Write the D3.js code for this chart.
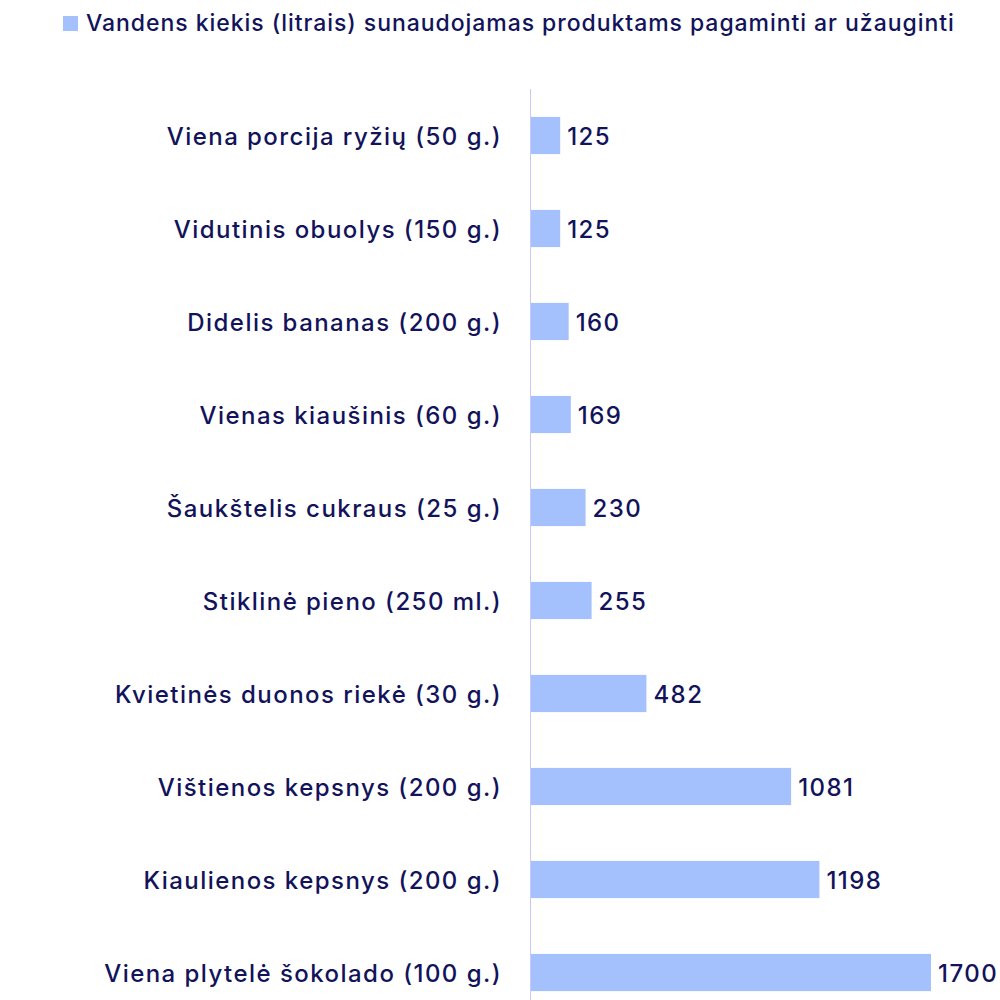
<!DOCTYPE html>
<html>
<head>
<meta charset="utf-8">
<script src="https://cdn.jsdelivr.net/npm/d3@7"></script>
<style>
	body { margin: 0; background: #fff; }
	text { font-family: Inter, "Noto Sans", sans-serif; font-weight: 500; }
</style>
</head>
<body>
<div id="chart"></div>
<script>
const CATEGORIES = [
		"Viena porcija ryžių (50 g.)",
		"Vidutinis obuolys (150 g.)",
		"Didelis bananas (200 g.)",
		"Vienas kiaušinis (60 g.)",
		"Šaukštelis cukraus (25 g.)",
		"Stiklinė pieno (250 ml.)",
		"Kvietinės duonos riekė (30 g.)",
		"Vištienos kepsnys (200 g.)",
		"Kiaulienos kepsnys (200 g.)",
		"Viena plytelė šokolado (100 g.)"
	],
	VALUES = [125, 125, 160, 169, 230, 255, 482, 1081, 1198, 1700],
	SERIES_NAME = "Vandens kiekis (litrais) sunaudojamas produktams pagaminti ar užauginti",
	X_MAX = 1660;

const W = 1000,
	H = 1000,
	TEXT_COLOR = '#12135a',
	BAR_COLOR = '#a4c1fd',
	AXIS_COLOR = '#c9c9f5',
	FONT_SIZE = 24,
	LETTER_SPACING = 1.45,
	LEGEND_FONT_SIZE = 23,
	LEGEND_LETTER_SPACING = 0.95;

let svg = d3.select('#chart').append('svg')
	.attr('width', W)
	.attr('height', H);

// bars are clipped at the axis max, like the original
let x = d3.scaleLinear()
	.domain([0, X_MAX])
	.range([530, 931])
	.clamp(true);

let y = d3.scaleBand()
	.domain(CATEGORIES)
	.range([89, 1019])
	.paddingInner(0.6)
	.paddingOuter(0.3);

// legend
let legend = svg.append('g');
legend.append('rect')
	.attr('x', 63)
	.attr('y', 16)
	.attr('width', 15)
	.attr('height', 15)
	.attr('fill', BAR_COLOR);
legend.append('text')
	.attr('x', 86)
	.attr('y', 31)
	.attr('fill', TEXT_COLOR)
	.style('font-size', LEGEND_FONT_SIZE + 'px')
	.style('letter-spacing', LEGEND_LETTER_SPACING + 'px')
	.text(SERIES_NAME);

// bars
svg.append('g').selectAll('rect')
	.data(VALUES)
	.join('rect')
	.attr('x', x(0))
	.attr('y', (d, i) => y(CATEGORIES[i]))
	.attr('width', d => x(d) - x(0))
	.attr('height', y.bandwidth())
	.attr('fill', BAR_COLOR);

// value labels
svg.append('g').selectAll('text')
	.data(VALUES)
	.join('text')
	.attr('x', d => x(d) + 7)
	.attr('y', (d, i) => y(CATEGORIES[i]) + y.bandwidth() / 2)
	.attr('dy', '0.38em')
	.attr('fill', TEXT_COLOR)
	.style('font-size', FONT_SIZE + 'px')
	.style('letter-spacing', LETTER_SPACING + 'px')
	.text(d => d);

// category axis
let axis = svg.append('g')
	.attr('transform', 'translate(' + x(0) + ',0)')
	.call(d3.axisLeft(y).tickSize(0).tickPadding(28));

axis.select('.domain')
	.attr('d', 'M0.5,89V1000')
	.attr('stroke', AXIS_COLOR);

axis.selectAll('.tick text')
	.attr('fill', TEXT_COLOR)
	.attr('dy', '0.38em')
	.style('font-size', FONT_SIZE + 'px')
	.style('letter-spacing', LETTER_SPACING + 'px')
	.style('font-family', 'Inter, "Noto Sans", sans-serif')
	.style('font-weight', 500);
</script>
</body>
</html>
